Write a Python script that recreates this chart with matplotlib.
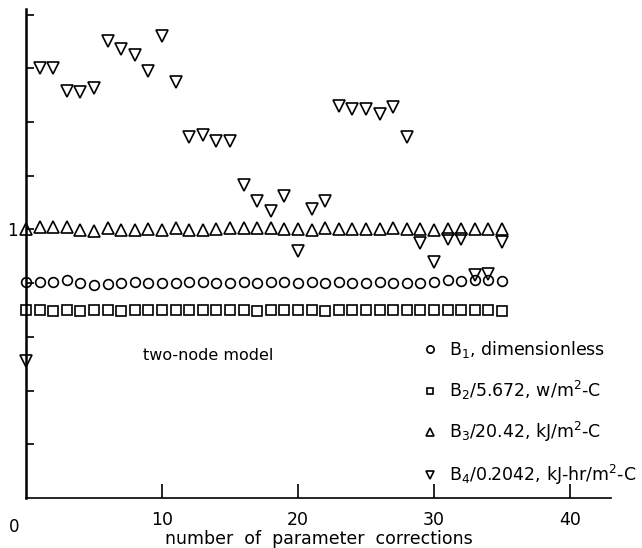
import numpy as np
import matplotlib
matplotlib.use('Agg')
import matplotlib.pyplot as plt

# number of parameter corrections
n = np.arange(0, 36)

b1 = [0.805, 0.805, 0.805, 0.81, 0.80, 0.795, 0.797, 0.80, 0.805, 0.80,
      0.80, 0.80, 0.805, 0.805, 0.80, 0.80, 0.805, 0.80, 0.805, 0.805,
      0.80, 0.805, 0.80, 0.805, 0.80, 0.80, 0.805, 0.80, 0.80, 0.80,
      0.805, 0.81, 0.807, 0.81, 0.812, 0.807]

b2 = [0.70, 0.70, 0.698, 0.70, 0.698, 0.70, 0.70, 0.698, 0.70, 0.70,
      0.70, 0.70, 0.70, 0.70, 0.70, 0.70, 0.70, 0.698, 0.70, 0.70,
      0.70, 0.70, 0.698, 0.70, 0.70, 0.70, 0.70, 0.70, 0.70, 0.70,
      0.70, 0.70, 0.70, 0.70, 0.70, 0.698]

b3 = [1.0, 1.01, 1.01, 1.01, 0.997, 0.993, 1.005, 0.997, 0.997, 1.0,
      0.997, 1.005, 0.997, 0.997, 1.0, 1.005, 1.005, 1.005, 1.005, 1.0,
      1.0, 0.997, 1.005, 1.0, 1.0, 1.0, 1.0, 1.005, 1.0, 1.0,
      0.997, 1.0, 1.0, 1.0, 1.0, 1.0]

b4 = [0.51, 1.60, 1.60, 1.515, 1.51, 1.525, 1.70, 1.67, 1.65, 1.59,
      1.72, 1.55, 1.345, 1.35, 1.33, 1.33, 1.165, 1.105, 1.07, 1.125,
      0.92, 1.075, 1.105, 1.46, 1.45, 1.45, 1.43, 1.455, 1.345, 0.95,
      0.88, 0.963, 0.963, 0.83, 0.835, 0.955]

labels = [r'B$_1$, dimensionless',
          r'B$_2$/5.672, w/m$^2$-C',
          r'B$_3$/20.42, kJ/m$^2$-C',
          r'B$_4$/0.2042, kJ-hr/m$^2$-C']

fig = plt.figure(figsize=(6.42, 5.48), dpi=100)
ax = fig.add_axes([0.0405, 0.0912, 0.911, 0.892])

kw = dict(linestyle='none', markerfacecolor='none', markeredgecolor='black',
          markeredgewidth=1.2, clip_on=False)
ax.plot(n, b1, marker='o', markersize=7, label=labels[0], **kw)
ax.plot(n, b2, marker='s', markersize=6.5, label=labels[1], **kw)
ax.plot(n, b3, marker='^', markersize=8, label=labels[2], **kw)
ax.plot(n, b4, marker='v', markersize=8, label=labels[3], **kw)

ax.set_xlim(0, 43)
ax.set_ylim(0, 1.82)

for s in ['top', 'right']:
    ax.spines[s].set_visible(False)
ax.spines['left'].set_linewidth(1.8)
ax.spines['bottom'].set_linewidth(1.2)

ax.set_xticks([10, 20, 30, 40])
ax.set_xticklabels(['10', '20', '30', '40'], fontsize=12.5)
ax.tick_params(axis='x', direction='in', length=10, width=1.2, pad=9)
ax.set_yticks(np.arange(0.2, 1.81, 0.2))
ax.set_yticklabels(['', '', '', '', '1', '', '', '', ''], fontsize=12)
ax.tick_params(axis='y', direction='in', length=6, width=1.2, pad=6)
ax.text(-0.012, -0.06, '0', transform=ax.transAxes, fontsize=12,
        ha='right', va='center')

ax.set_xlabel('number  of  parameter  corrections', fontsize=12.5, labelpad=1)
ax.text(13.4, 0.532, 'two-node model', fontsize=11.5, ha='center', va='center')

ax.legend(loc='lower left', bbox_to_anchor=(0.655, -0.003), frameon=False,
          fontsize=12.5, markerscale=0.75, handlelength=1.0, handletextpad=0.6,
          labelspacing=1.08, borderaxespad=0.3)

fig.savefig('out.png', dpi=100)
